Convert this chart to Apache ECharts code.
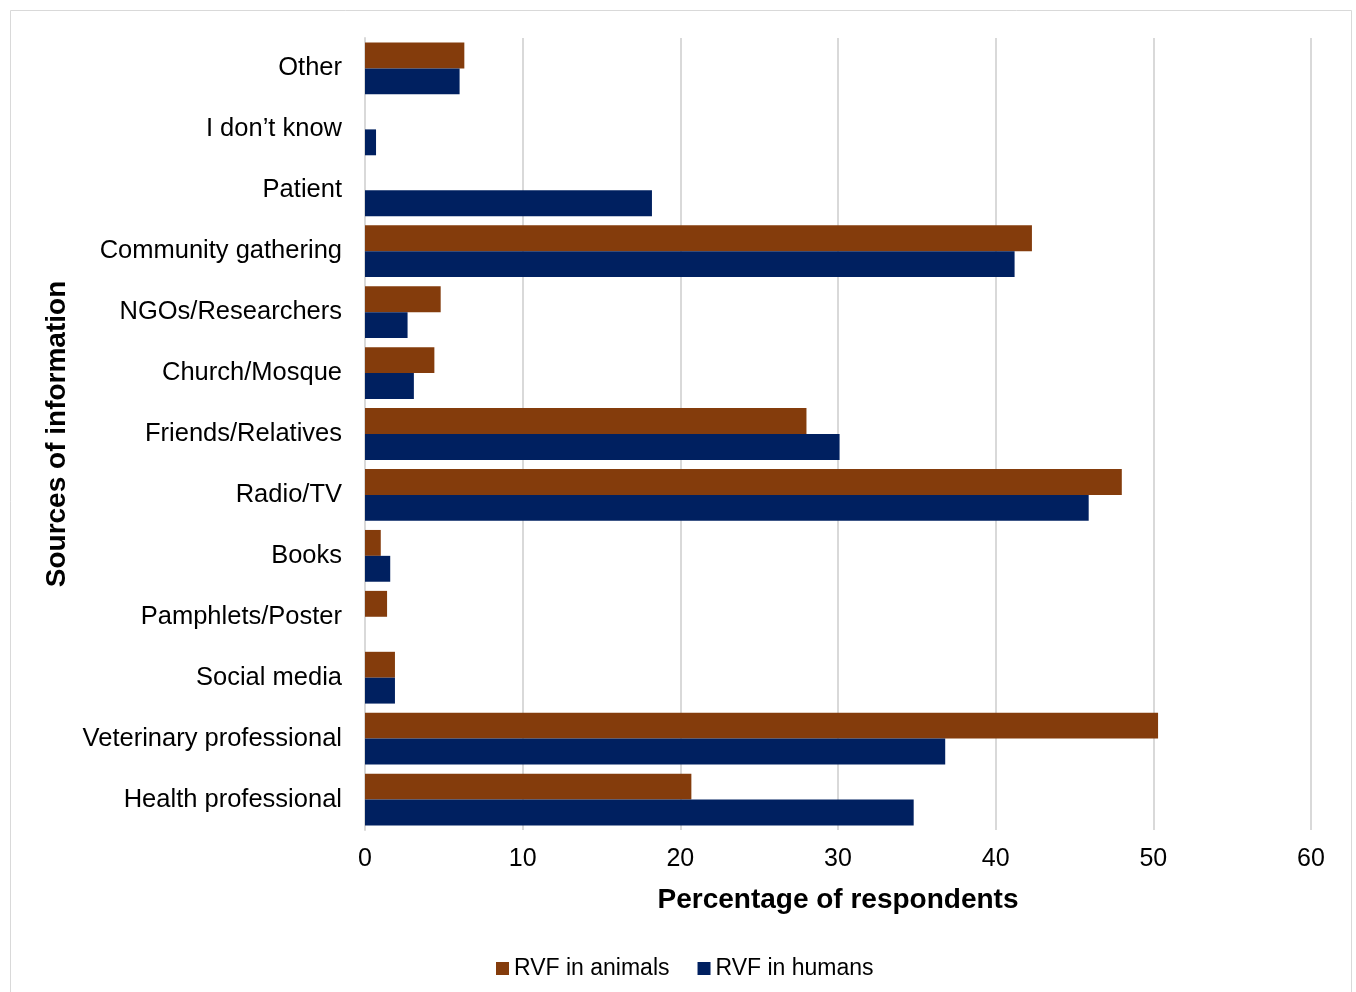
<!DOCTYPE html>
<html>
<head>
<meta charset="utf-8">
<script src="https://cdn.jsdelivr.net/npm/echarts@6/dist/echarts.min.js"></script>
<style>
  html, body { margin: 0; padding: 0; background: #fff; }
  #chart { width: 1356px; height: 992px; }
</style>
</head>
<body>
<div id="chart"></div>
<script>
// Sources of information on Rift Valley fever, listed bottom to top
const categories = [
  'Health professional', 'Veterinary professional', 'Social media',
  'Pamphlets/Poster', 'Books', 'Radio/TV', 'Friends/Relatives',
  'Church/Mosque', 'NGOs/Researchers', 'Community gathering',
  'Patient', 'I don\u2019t know', 'Other'
];
// Percentage of respondents per source
const animalsValues = [20.7, 50.3, 1.9, 1.4, 1.0, 48.0, 28.0, 4.4, 4.8, 42.3, 0, 0, 6.3];
const humansValues  = [34.8, 36.8, 1.9, 0, 1.6, 45.9, 30.1, 3.1, 2.7, 41.2, 18.2, 0.7, 6.0];
const xTicks = { min: 0, max: 60, interval: 10 };

const FONT = '"Liberation Sans", Arial, sans-serif';
const chart = echarts.init(document.getElementById('chart'));

chart.setOption({
  animation: false,
  backgroundColor: '#ffffff',
  textStyle: { fontFamily: FONT },
  graphic: [{
    type: 'rect',
    shape: { x: 10.5, y: 10.5, width: 1341, height: 1000 },
    style: { fill: 'none', stroke: '#d9d9d9', lineWidth: 1 },
    silent: true
  }],
  grid: { left: 365, right: 45, top: 38, bottom: 162 },
  legend: {
    data: ['RVF in animals', 'RVF in humans'],
    top: 952,
    left: 491,
    itemWidth: 13,
    itemHeight: 13,
    itemGap: 28,
    icon: 'rect',
    textStyle: { fontFamily: FONT, fontSize: 23, color: '#000' }
  },
  xAxis: {
    type: 'value',
    min: xTicks.min,
    max: xTicks.max,
    interval: xTicks.interval,
    name: 'Percentage of respondents',
    nameLocation: 'middle',
    nameGap: 56,
    nameTextStyle: { fontFamily: FONT, fontSize: 28, fontWeight: 'bold', color: '#000' },
    axisLine: { show: false },
    axisTick: { show: false },
    axisLabel: { fontFamily: FONT, fontSize: 25, color: '#000', margin: 17 },
    splitLine: { show: true, lineStyle: { color: '#d9d9d9', width: 2 } }
  },
  yAxis: {
    type: 'category',
    data: categories,
    name: 'Sources of information',
    nameLocation: 'middle',
    nameGap: 293,
    nameRotate: 90,
    nameTextStyle: { fontFamily: FONT, fontSize: 28, fontWeight: 'bold', color: '#000' },
    axisLine: { show: true, lineStyle: { color: '#d9d9d9', width: 2 } },
    axisTick: { show: false },
    axisLabel: { fontFamily: FONT, fontSize: 25.5, color: '#000', margin: 23 },
    splitLine: { show: false }
  },
  series: [
    {
      name: 'RVF in animals',
      type: 'bar',
      data: animalsValues,
      barGap: '0%',
      barCategoryGap: '15%',
      itemStyle: { color: '#843c0c' }
    },
    {
      name: 'RVF in humans',
      type: 'bar',
      data: humansValues,
      barGap: '0%',
      barCategoryGap: '15%',
      itemStyle: { color: '#002060' }
    }
  ]
});
</script>
</body>
</html>
